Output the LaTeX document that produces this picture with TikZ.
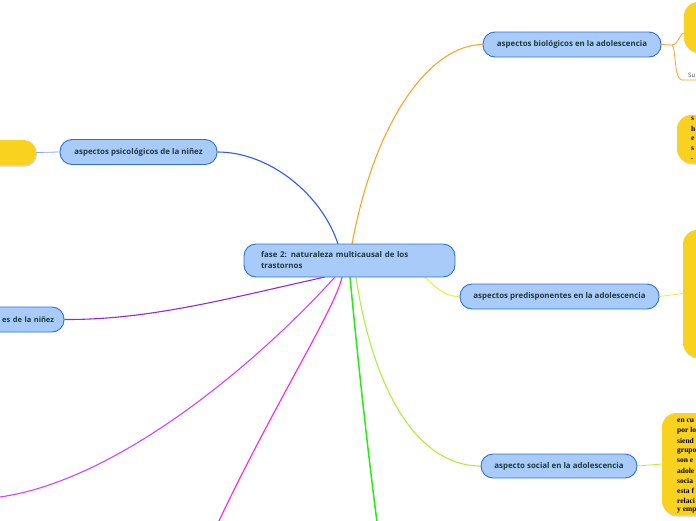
\documentclass[tikz,border=0pt]{standalone}
\usepackage{fontspec}
\setmainfont{Open Sans}
\newfontfamily\yserif{Liberation Serif}
\usetikzlibrary{shadows,backgrounds}
\definecolor{bfill}{RGB}{169,203,249}
\definecolor{bdraw}{RGB}{46,111,224}
\definecolor{ytxt}{RGB}{30,58,58}
\definecolor{yfill}{RGB}{249,209,31}
\definecolor{corange}{RGB}{248,165,42}
\definecolor{cblue}{RGB}{43,91,240}
\definecolor{cpurple}{RGB}{140,43,240}
\definecolor{cviolet}{RGB}{204,68,255}
\definecolor{cmagenta}{RGB}{255,34,221}
\definecolor{cgreen}{RGB}{40,235,20}
\definecolor{clgreen}{RGB}{176,240,60}
\definecolor{cyel}{RGB}{240,240,64}
\definecolor{clblue}{RGB}{127,168,240}
\tikzset{
  bluebox/.style={draw=bdraw, fill=bfill, line width=0.9pt, rounded corners=12pt,
    text=ytxt, font=\fontsize{7.9}{11}\selectfont\bfseries, inner sep=0pt, minimum height=25pt},
  ybox/.style={fill=yfill, rounded corners=14pt, inner sep=0pt,
    drop shadow={shadow xshift=1pt, shadow yshift=-1.5pt, fill=black!35}},
  ytext/.style={font=\yserif\fontsize{7.5}{9}\selectfont\bfseries, anchor=west, inner sep=0pt, text=black},
  conn/.style={line width=1.1pt}
}
\begin{document}
\begin{tikzpicture}[x=1pt,y=-1pt]
\useasboundingbox (0,0) rectangle (696,520);
\clip (0,0) rectangle (696,520);
% yellow nodes
\node[ybox, minimum width=80pt, minimum height=50pt] (y1) at (724,27) {};
\node[ybox, minimum width=80pt, minimum height=48pt] (y2) at (717,139) {};
\node[ybox, minimum width=80pt, minimum height=127pt] (y3) at (723,293.5) {};
\node[ybox, minimum width=100pt, minimum height=102pt] (y4) at (712,464) {};
\node[ybox, minimum width=96pt, minimum height=25pt, rounded corners=12pt] (yl) at (-12,152.5) {};
% texts in yellow nodes
\foreach \t [count=\i] in {s,h,e,s,.} {\node[ytext] (y2t\i) at (691,109+10*\i) {\t};}
\foreach \t [count=\i] in {en cu,por lo,siend,grupo,son e,adole,socia,esta f,relaci,y emp} {\node[ytext] (y4t\i) at (677,411+10*\i) {\t};}
% blue nodes
\node[bluebox, minimum width=211pt, minimum height=33pt, text width=177pt, align=left, inner xsep=17pt] (c) at (349.5,260.5) {fase 2: naturaleza multicausal de los\\trastornos};
\node[bluebox, minimum width=178pt] (bio) at (572,44.5) {aspectos biológicos en la adolescencia};
\node[bluebox, minimum width=157pt] (psi) at (138.5,152) {aspectos psicológicos de la niñez};
\node[bluebox, font=\fontsize{7.5}{11}\selectfont\bfseries, text width=104pt, align=right, inner xsep=10pt] (nin) at (2,319.5) {es de la niñez};
\node[bluebox, minimum width=199pt] (pre) at (559.5,296.5) {aspectos predisponentes en la adolescencia};
\node[bluebox, minimum width=156pt, minimum height=24pt] (soc) at (559,466) {aspecto social en la adolescencia};
% coordinates
\coordinate (o1) at (352,244);
\coordinate (o2) at (338,244);
\coordinate (o3) at (325,277);
\coordinate (o4) at (335,277);
\coordinate (o5) at (342,277);
\coordinate (o6) at (350,277);
\coordinate (o7) at (356,277);
\coordinate (o8) at (425,277);
\coordinate (e1) at (0,497);
\coordinate (e2) at (210,540);
\coordinate (e3) at (378,530);
\coordinate (sp) at (672,45);
\coordinate (su) at (696,80);
\coordinate (y1in) at (684,33);
\node[font=\fontsize{6}{7}\selectfont, text=black!75, anchor=south west, inner sep=0pt] (sutxt) at (688,78) {Su};
% connectors behind nodes
\begin{scope}[on background layer]
\draw[conn, corange] (o1) .. controls (375,120) and (430,45) .. (bio.west);
\draw[conn, cblue] (psi.east) .. controls (270,152) and (322,195) .. (o2);
\draw[conn, cpurple] (o3) .. controls (230,298) and (150,320) .. (nin.east);
\draw[conn, cviolet] (o4) .. controls (260,360) and (120,480) .. (e1);
\draw[conn, cmagenta] (o5) .. controls (335,310) and (270,410) .. (e2);
\draw[conn, cgreen, line width=1.5pt] (o6) .. controls (355,330) and (365,430) .. (e3);
\draw[conn, clgreen] (o7) .. controls (372,385) and (415,466) .. (soc.west);
\draw[conn, cyel] (o8) .. controls (440,292) and (448,296.5) .. (pre.west);
\draw[line width=0.8pt, clblue] (yl.east) -- (psi.west);
\draw[line width=0.8pt, cyel] (pre.east) -- (y3.west);
\draw[line width=0.8pt, clgreen] (soc.east) -- (y4.west);
\draw[line width=0.8pt, corange] (bio.east) -- (sp) .. controls (678,45) and (680,33) .. (y1in);
\draw[line width=0.8pt, corange] (sp) .. controls (676,48) and (674,80) .. (682,80) -- (su);
\end{scope}
\end{tikzpicture}
\end{document}
